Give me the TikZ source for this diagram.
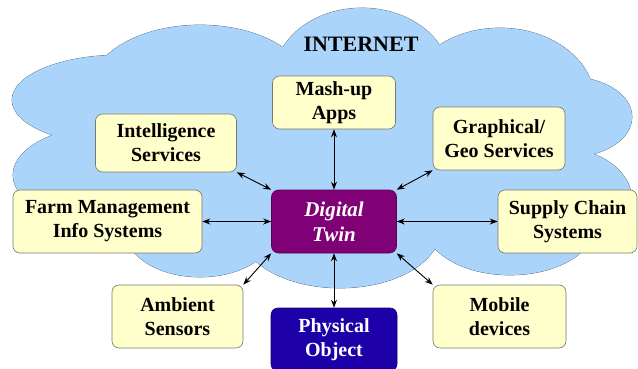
\documentclass[tikz,border=0pt]{standalone}
\usepackage{fontspec}
\setmainfont{Liberation Serif}
\usepackage{tikz}
\usetikzlibrary{arrows.meta}
\definecolor{cloudblue}{RGB}{170,212,250}
\definecolor{cloudline}{RGB}{85,95,115}
\definecolor{boxyellow}{RGB}{255,255,204}
\definecolor{boxline}{RGB}{120,120,110}
\definecolor{twinpurple}{RGB}{128,0,118}
\definecolor{objectblue}{RGB}{30,0,168}

\begin{document}
\begin{tikzpicture}[x=1pt, y=-1pt,
	box/.style={draw=boxline, fill=boxyellow, rounded corners=7pt, line width=0.6pt, align=center,
		font=\fontsize{20}{24}\selectfont\bfseries, inner sep=0pt, minimum height=63pt},
	link/.style={<->, >={Stealth[length=8pt,width=6pt]}, line width=0.9pt}]
	\useasboundingbox (0,0) rectangle (638,369);
	% cloud: outlined bumps, then filled again to hide inner lines
	\def\bumps{120/100/108/45, 200/90/110/65, 362/78/88/70, 500/102/95/74, 570/117/62/40,
		560/200/72/52, 113/175/100/50, 200/230/75/47, 340/230/100/58, 510/225/85/50}
	\foreach \cx/\cy/\rx/\ry in \bumps
		\filldraw [draw=cloudline, fill=cloudblue, line width=0.7pt] (\cx,\cy) ellipse [x radius=\rx, y radius=\ry];
	\foreach \cx/\cy/\rx/\ry in \bumps
		\fill [cloudblue] (\cx,\cy) ellipse [x radius=\rx, y radius=\ry];
	\fill [cloudblue] (340,160) ellipse [x radius=240, y radius=90];
	\node [font=\fontsize{22}{26}\selectfont\bfseries] (internet) at (361,44) {INTERNET};

	\node [box, minimum width=123pt, minimum height=53pt] (mashup) at (334,102.5) {Mash-up\\Apps};
	\node [box, minimum width=141pt, minimum height=58pt] (intel) at (166,143) {Intelligence\\Services};
	\node [box, minimum width=132pt] (geo) at (499,138.5) {Graphical/\\Geo Services};
	\node [box, minimum width=189pt] (farm) at (107.5,221.5) {Farm Management\\Info Systems};
	\node [box, minimum width=125pt, fill=twinpurple, draw=twinpurple!70!black, text=white,
		font=\fontsize{21}{25}\selectfont\bfseries\itshape] (twin) at (334,221.5) {Digital\\Twin};
	\node [box, minimum width=139pt] (supply) at (567.5,221.5) {Supply Chain\\Systems};
	\node [box, minimum width=131pt] (ambient) at (177.5,316.5) {Ambient\\Sensors};
	\node [box, minimum width=126pt, fill=objectblue, draw=objectblue!70!black, text=white] (object) at (334,339.5) {Physical\\Object};
	\node [box, minimum width=133pt] (mobile) at (499.5,316.5) {Mobile\\devices};

	\draw [link] (mashup.south) -- (twin.north);
	\draw [link] (intel.south east) -- (twin.north west);
	\draw [link] (geo.south west) -- (twin.north east);
	\draw [link] (farm.east) -- (twin.west);
	\draw [link] (supply.west) -- (twin.east);
	\draw [link] (ambient.north east) -- (twin.south west);
	\draw [link] (mobile.north west) -- (twin.south east);
	\draw [link] (object.north) -- (twin.south);
\end{tikzpicture}
\end{document}
